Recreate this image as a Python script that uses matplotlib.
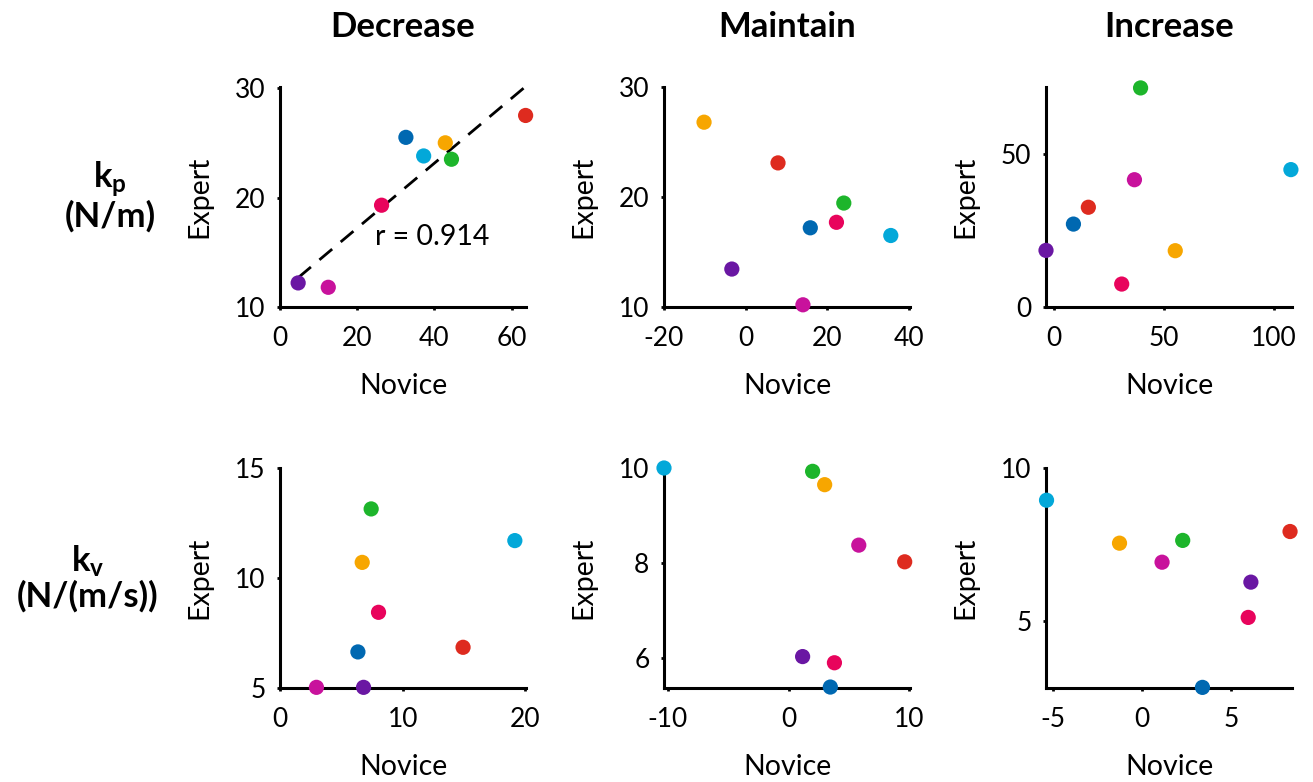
import numpy as np
import matplotlib
matplotlib.use("Agg")
import matplotlib.pyplot as plt

plt.rcParams['font.family'] = ['Lato', 'DejaVu Sans']
plt.rcParams['mathtext.fontset'] = 'custom'
plt.rcParams['mathtext.rm'] = 'Lato'
plt.rcParams['mathtext.bf'] = 'Lato:bold'
plt.rcParams['axes.unicode_minus'] = False

# subjects, one colour each (same order in every panel)
SUBJ_COLORS = ['#6a17a3', '#c8129c', '#e8045c', '#0068b1', '#03a8d9', '#f7a600', '#1db52b', '#de2b1f']

COL_TITLES = ['Decrease', 'Maintain', 'Increase']
ROW_LABELS = [r'$\mathbf{k_p}$' + '\n(N/m)', r'$\mathbf{k_v}$' + '\n(N/(m/s))']

# kp
kp_dec_nov = [4.7, 12.5, 26.3, 32.6, 37.2, 42.8, 44.4, 63.6]
kp_dec_exp = [12.2, 11.8, 19.3, 25.5, 23.8, 25.0, 23.5, 27.5]
kp_mai_nov = [-3.4, 14.0, 22.2, 15.8, 35.5, -10.2, 24.0, 7.9]
kp_mai_exp = [13.45, 10.2, 17.7, 17.2, 16.5, 26.8, 19.45, 23.1]
kp_inc_nov = [-3.8, 36.5, 30.7, 8.7, 107.8, 55.1, 39.3, 15.5]
kp_inc_exp = [18.5, 41.6, 7.5, 27.1, 44.9, 18.4, 71.6, 32.6]
# kv
kv_dec_nov = [6.81, 2.97, 8.03, 6.35, 19.14, 6.7, 7.43, 14.92]
kv_dec_exp = [5.03, 5.03, 8.44, 6.64, 11.7, 10.71, 13.14, 6.85]
kv_mai_nov = [1.17, 5.83, 3.81, 3.47, -10.33, 3.0, 2.0, 9.64]
kv_mai_exp = [6.04, 8.38, 5.91, 5.40, 10.0, 9.65, 9.93, 8.03]
kv_inc_nov = [6.1, 1.11, 5.95, 3.38, -5.38, -1.28, 2.27, 8.3]
kv_inc_exp = [6.28, 6.93, 5.13, 2.85, 8.95, 7.55, 7.64, 7.93]

R_TEXT = 'r = 0.914'

panels = [
    # (novice, expert, xlim, ylim, xticks, yticks)
    (kp_dec_nov, kp_dec_exp, (0, 63.7), (10, 30.1), [0, 20, 40, 60], [10, 20, 30]),
    (kp_mai_nov, kp_mai_exp, (-20, 40.2), (10, 30), [-20, 0, 20, 40], [10, 20, 30]),
    (kp_inc_nov, kp_inc_exp, (-3.8, 108.3), (0, 71.9), [0, 50, 100], [0, 50]),
    (kv_dec_nov, kv_dec_exp, (0, 20.05), (5, 15), [0, 10, 20], [5, 10, 15]),
    (kv_mai_nov, kv_mai_exp, (-10.33, 10.08), (5.38, 10), [-10, 0, 10], [6, 8, 10]),
    (kv_inc_nov, kv_inc_exp, (-5.41, 8.41), (2.83, 10), [-5, 0, 5], [5, 10]),
]

W, H = 1313, 782
fig = plt.figure(figsize=(W / 100, H / 100), dpi=100)

col_left = [280, 664, 1046]
row_top = [87, 468]
aw, ah = 246, 220

axes = []
for i, (xn, ye, xl, yl, xt, yt) in enumerate(panels):
    r, c = divmod(i, 3)
    ax = fig.add_axes([col_left[c] / W, 1 - (row_top[r] + ah) / H, aw / W, ah / H])
    ax.scatter(xn, ye, s=120, c=SUBJ_COLORS, clip_on=False, zorder=3, linewidths=0)
    ax.set_xlim(*xl); ax.set_ylim(*yl)
    ax.set_xticks(xt); ax.set_yticks(yt)
    for s in ['top', 'right']:
        ax.spines[s].set_visible(False)
    for s in ['left', 'bottom']:
        ax.spines[s].set_linewidth(2.2)
    ax.tick_params(axis='both', length=2.5, width=2, labelsize=19, direction='out')
    ax.tick_params(axis='x', pad=11)
    ax.tick_params(axis='y', pad=8)
    ax.set_xlabel('Novice', fontsize=20.5)
    ax.set_ylabel('Expert', fontsize=20.5)
    ax.xaxis.set_label_coords(0.5, -0.30)
    ax.yaxis.set_label_coords(-0.275, 0.5)
    axes.append(ax)

# regression line, decrease kp
x = np.array(kp_dec_nov); y = np.array(kp_dec_exp)
m, b = np.polyfit(x, y, 1)
xs = np.array([x.min(), x.max() + 0.2])
axes[0].plot(xs, m * xs + b, color='black', lw=2, dashes=(6, 4), clip_on=False, zorder=2)
axes[0].text(24.5, 16.4, R_TEXT, fontsize=20.5, ha='left', va='center')

for c, t in enumerate(COL_TITLES):
    fig.text((col_left[c] + aw / 2) / W, 1 - 27 / H, t, fontsize=25, fontweight='bold',
             ha='center', va='center')

fig.text(110 / W, 1 - 196 / H, ROW_LABELS[0], fontsize=25, fontweight='bold',
         ha='center', va='center', linespacing=1.05)
fig.text(88 / W, 1 - 578 / H, ROW_LABELS[1], fontsize=25, fontweight='bold',
         ha='center', va='center', linespacing=1.05)

fig.savefig('out.png', dpi=100)
